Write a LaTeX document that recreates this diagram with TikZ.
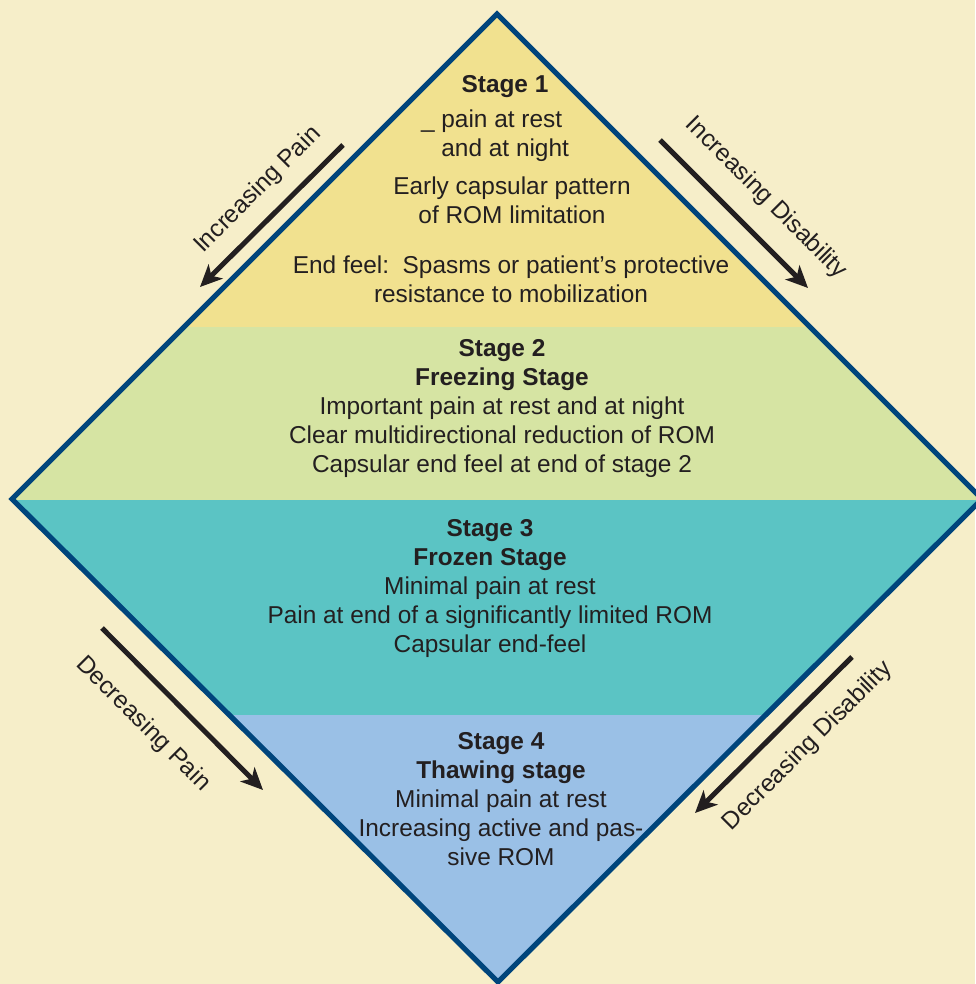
\documentclass[tikz,border=0pt]{standalone}
\usepackage{fontspec}
\setmainfont{Liberation Sans}
\usetikzlibrary{arrows.meta}

\definecolor{bgcream}{HTML}{F6EEC9}
\definecolor{stageone}{HTML}{F1E18F}
\definecolor{stagetwo}{HTML}{D6E4A3}
\definecolor{stagethree}{HTML}{5BC4C4}
\definecolor{stagefour}{HTML}{9AC0E6}
\definecolor{rimblue}{HTML}{00457C}
\definecolor{inkgray}{HTML}{231F20}

\begin{document}
\begin{tikzpicture}[x=0.5pt,y=-0.5pt,
    stagetxt/.style={text=inkgray, font=\fontsize{12.2}{14.5}\selectfont, align=center, inner sep=0pt},
    sidelabel/.style={text=inkgray, font=\fontsize{12.2}{14.5}\selectfont, inner sep=0pt},
    sidearrow/.style={draw=inkgray, line width=2.5pt, -{Stealth[length=11pt,width=10pt,inset=3pt]}}]
    \useasboundingbox (0,0) rectangle (975,984);
    \fill[bgcream] (0,0) rectangle (975,984);

    % the four stages, clipped to the diamond
    \begin{scope}
      \clip (497,14) -- (982,499) -- (498,982) -- (12,499) -- cycle;
      \fill[stageone]   (0,0)   rectangle (990,327);
      \fill[stagetwo]   (0,327) rectangle (990,500);
      \fill[stagethree] (0,500) rectangle (990,715);
      \fill[stagefour]  (0,715) rectangle (990,990);
    \end{scope}
    \draw[rimblue, line width=2.6pt, line join=miter]
      (497,14) -- (982,499) -- (498,982) -- (12,499) -- cycle;

    % stage 1
    \node[stagetxt] (st1) at (505,87) {\textbf{Stage 1}};
    \node[stagetxt, align=left] (st1a) at (495,136) {\_ pain at rest\\\phantom{\_\ }and at night};
    \node[stagetxt] (st1b) at (512,200) {Early capsular pattern\\of ROM limitation};
    \node[stagetxt] (st1c) at (511,279) {End feel:\ \ Spasms or patient’s protective\\resistance to mobilization};

    % stage 2
    \node[stagetxt] (st2) at (502,409) {\textbf{Stage 2}\\\textbf{Freezing Stage}\\Important pain at rest and at night\\Clear multidirectional reduction of ROM\\Capsular end feel at end of stage 2};

    % stage 3
    \node[stagetxt] (st3) at (490,589) {\textbf{Stage 3}\\\textbf{Frozen Stage}\\Minimal pain at rest\\Pain at end of a significantly limited ROM\\Capsular end-feel};

    % stage 4
    \node[stagetxt] (st4) at (501,799) {\textbf{Stage 4}\\\textbf{Thawing stage}\\Minimal pain at rest\\Increasing active and pas-\\sive ROM};

    % side arrows
    \coordinate (ipA) at (343,145);  \coordinate (ipB) at (200,287);
    \coordinate (idA) at (660,140);  \coordinate (idB) at (808,288);
    \coordinate (dpA) at (102,628);  \coordinate (dpB) at (263,790);
    \coordinate (ddA) at (852,657);  \coordinate (ddB) at (695,813);
    \draw[sidearrow] (ipA) -- (ipB);
    \draw[sidearrow] (idA) -- (idB);
    \draw[sidearrow] (dpA) -- (dpB);
    \draw[sidearrow] (ddA) -- (ddB);

    \node[sidelabel, rotate=45]  (ipL) at (258,190) {Increasing Pain};
    \node[sidelabel, rotate=-45] (idL) at (766,198) {Increasing Disability};
    \node[sidelabel, rotate=-45] (dpL) at (143,724) {Decreasing Pain};
    \node[sidelabel, rotate=45]  (ddL) at (808,746) {Decreasing Disability};
\end{tikzpicture}
\end{document}
